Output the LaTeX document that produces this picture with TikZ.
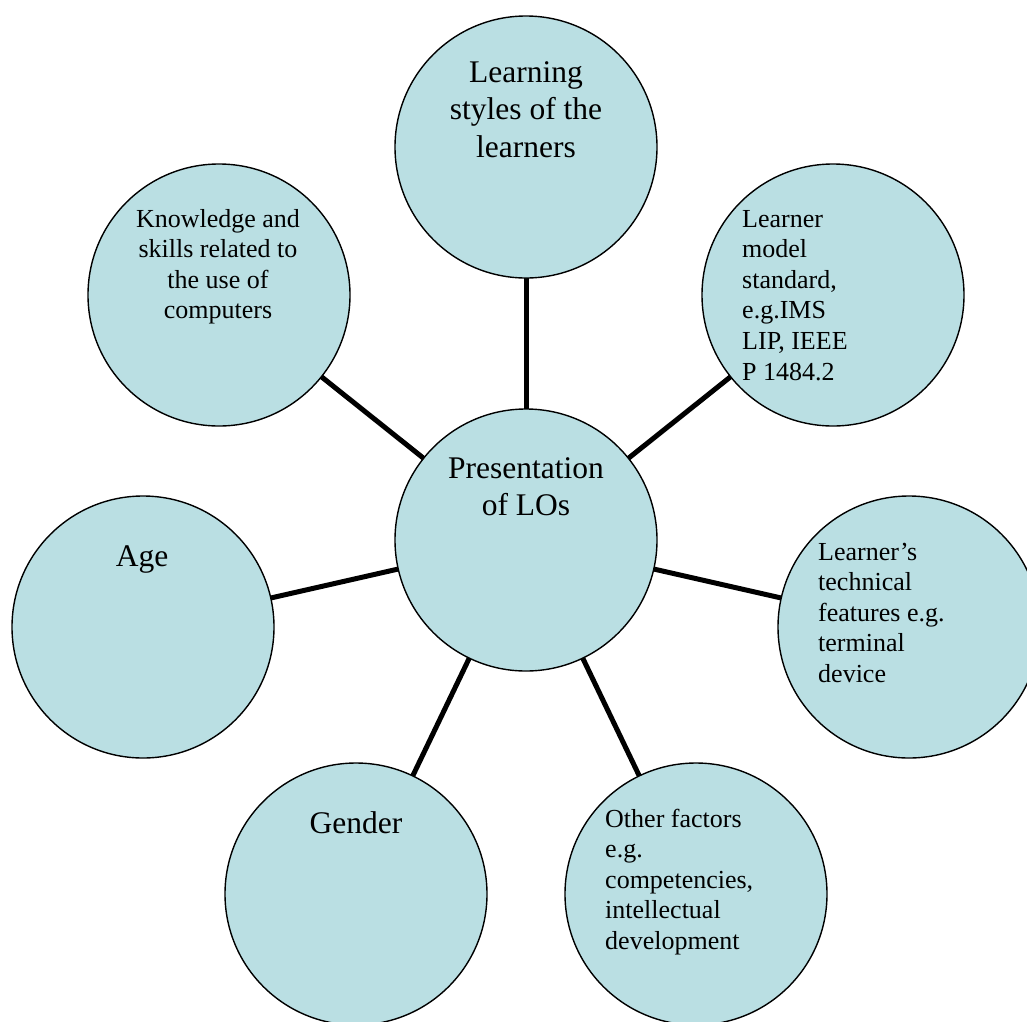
\documentclass[tikz,border=0pt]{standalone}
\usepackage{fontspec}
\setmainfont{Liberation Serif}
\usetikzlibrary{backgrounds}
\definecolor{bubble}{RGB}{186,223,227}
\begin{document}
\begin{tikzpicture}[x=1pt,y=1pt,
  bub/.style={circle, draw=black, line width=1.4pt, fill=bubble, minimum size=262pt, inner sep=0pt, outer sep=0pt},
  link/.style={line width=5pt},
  bigtext/.style={inner sep=0pt, font=\fontsize{31.5}{37.5}\selectfont},
  smalltext/.style={inner sep=0pt, font=\fontsize{26}{30.6}\selectfont}]
\useasboundingbox (0,0) rectangle (1027,-1021);
\clip (0,0) rectangle (1027,-1021);
% circles
\node[bub] (c)  at (526,-540) {};
\node[bub] (s1) at (526,-147) {};
\node[bub] (s2) at (833,-295) {};
\node[bub] (s3) at (909,-627) {};
\node[bub] (s4) at (696,-894) {};
\node[bub] (s5) at (356,-894) {};
\node[bub] (s6) at (143,-627) {};
\node[bub] (s7) at (219,-295) {};
% connectors
\begin{scope}[on background layer]
\foreach \s in {s1,s2,s3,s4,s5,s6,s7} \draw[link] (c) -- (\s);
\end{scope}
% texts
\node[bigtext, anchor=base] (t0) at (526,-478) {\parbox[t]{250pt}{\centering Presentation\\of LOs}};
\node[bigtext, anchor=base] (t1) at (526,-82) {\parbox[t]{250pt}{\centering Learning\\styles of the\\learners}};
\node[smalltext, anchor=base west] (t2) at (742,-227) {\parbox[t]{200pt}{\raggedright Learner\\model\\standard,\\e.g.IMS\\LIP, IEEE\\P 1484.2}};
\node[smalltext, anchor=base west] (t3) at (818,-560) {\parbox[t]{200pt}{\raggedright Learner’s\\technical\\features e.g.\\terminal\\device}};
\node[smalltext, anchor=base west] (t4) at (605,-827) {\parbox[t]{200pt}{\raggedright Other factors\\e.g.\\competencies,\\intellectual\\development}};
\node[bigtext, anchor=base] (t5) at (356,-833) {\parbox[t]{250pt}{\centering Gender}};
\node[bigtext, anchor=base] (t6) at (142,-566) {\parbox[t]{250pt}{\centering Age}};
\node[smalltext, anchor=base] (t7) at (218,-227) {\parbox[t]{250pt}{\centering Knowledge and\\skills related to\\the use of\\computers}};
\end{tikzpicture}
\end{document}
